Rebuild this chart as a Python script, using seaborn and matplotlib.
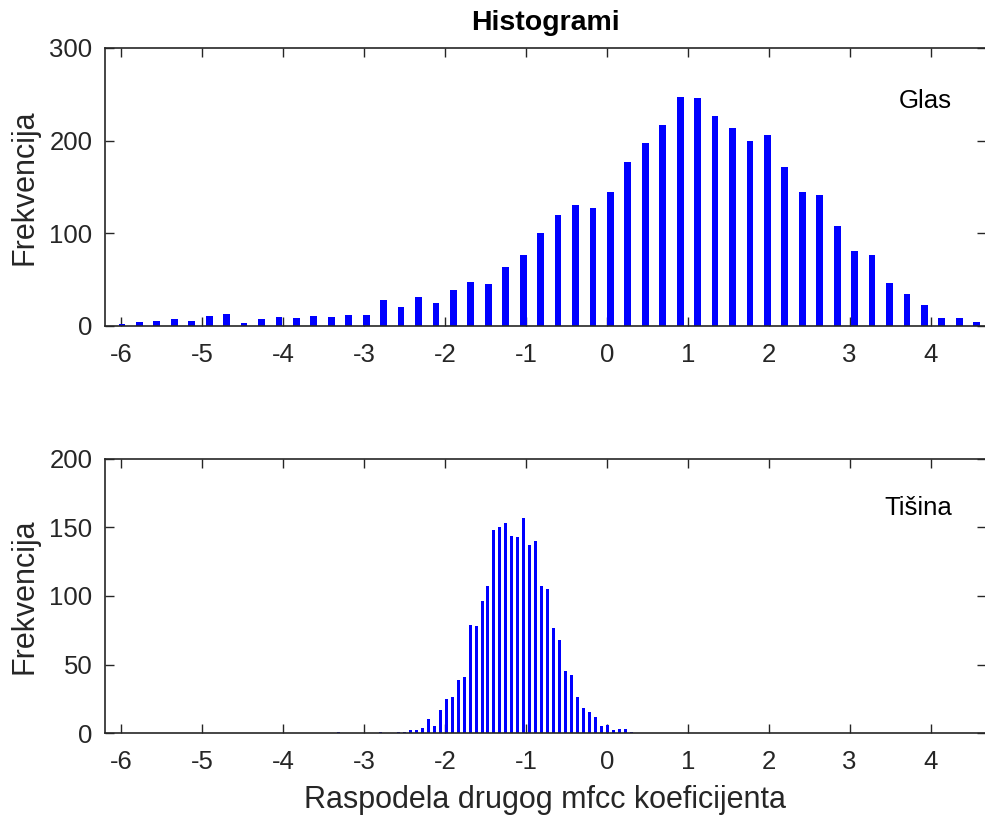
import numpy as np
import pandas as pd
import seaborn as sns
import matplotlib.pyplot as plt

# Histogram counts (50 bins each)
glas_counts = [2, 4, 5, 8, 5, 11, 13, 3, 8, 10,
               9, 11, 10, 12, 12, 28, 21, 31, 25, 39,
               47, 45, 64, 77, 100, 120, 130, 127, 144, 177,
               197, 217, 247, 246, 226, 214, 200, 206, 172, 144,
               141, 108, 81, 77, 46, 35, 23, 9, 9, 4]
glas_range = (-6.098, 4.678)

tisina_counts = [1, 0, 0, 0, 0, 0, 0, 1, 0, 0,
                 1, 1, 2, 2, 4, 10, 5, 17, 25, 26,
                 39, 41, 79, 78, 96, 107, 148, 150, 153, 144,
                 143, 157, 137, 140, 107, 105, 77, 68, 45, 42,
                 26, 18, 15, 12, 5, 6, 2, 3, 3, 1]
tisina_range = (-3.355, 0.345)

x_ticks = [-6, -5, -4, -3, -2, -1, 0, 1, 2, 3, 4]

sns.set_style("ticks")
plt.rcParams['font.family'] = ['Liberation Sans', 'DejaVu Sans']
plt.rcParams['xtick.direction'] = 'in'
plt.rcParams['ytick.direction'] = 'in'
plt.rcParams['xtick.top'] = True
plt.rcParams['ytick.right'] = True

dark = '#262626'

fig = plt.figure(figsize=(9.85, 8.18), dpi=100)
ax1 = fig.add_axes([0.1066, 0.6015, 0.894, 0.340])
ax2 = fig.add_axes([0.1066, 0.1039, 0.894, 0.335])


def draw_hist(ax, counts, rng, shrink, ymax, yticks, label, label_y):
    n = len(counts)
    width = (rng[1] - rng[0]) / n
    centers = rng[0] + width * (np.arange(n) + 0.5)
    df = pd.DataFrame({'x': centers, 'count': counts})
    sns.histplot(data=df, x='x', weights='count', bins=n, binrange=rng,
                 shrink=shrink, color='#0000ff', alpha=1, linewidth=0, ax=ax)
    ax.set_xlim(-6.2, 4.68)
    ax.set_ylim(0, ymax)
    ax.set_xticks(x_ticks)
    ax.set_xticklabels([str(t) for t in x_ticks])
    ax.set_yticks(yticks)
    ax.tick_params(length=6.5, width=1, colors=dark, labelsize=18.5)
    ax.tick_params(axis='x', pad=12)
    ax.tick_params(axis='y', pad=9)
    for s in ax.spines.values():
        s.set_color(dark)
        s.set_linewidth(1.2)
        s.set_visible(True)
    ax.set_ylabel('Frekvencija', fontsize=22, color=dark, labelpad=7)
    ax.set_xlabel('')
    ax.text(0.962, label_y, label, transform=ax.transAxes, ha='right',
            va='center', fontsize=18.5, color='black')


draw_hist(ax1, glas_counts, glas_range, 0.39, 300, [0, 100, 200, 300], 'Glas', 0.81)
draw_hist(ax2, tisina_counts, tisina_range, 0.5, 200, [0, 50, 100, 150, 200], 'Tišina', 0.82)

ax1.set_title('Histogrami', fontsize=20.5, fontweight='bold', color='black', pad=13)
ax2.set_xlabel('Raspodela drugog mfcc koeficijenta', fontsize=22, color=dark, labelpad=8)

fig.savefig('out.png', dpi=100)
